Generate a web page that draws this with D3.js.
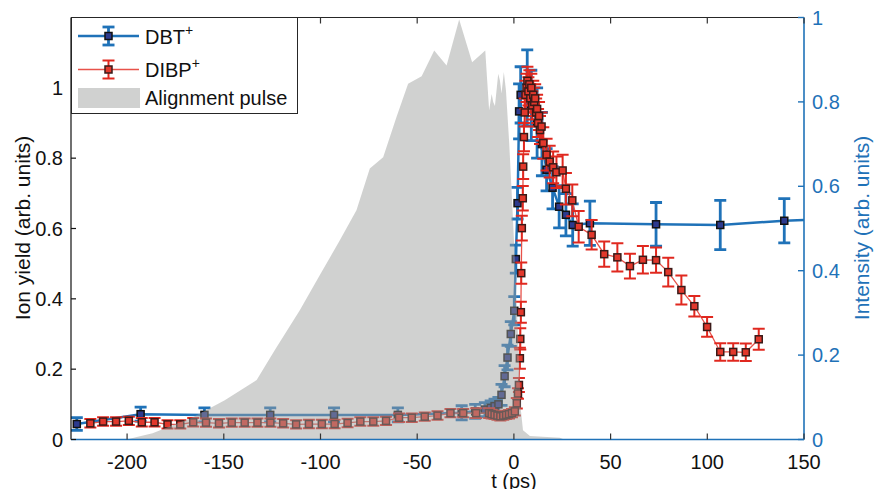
<!DOCTYPE html>
<html><head><meta charset="utf-8">
<script src="https://cdn.jsdelivr.net/npm/d3@7"></script>
<style>
html,body{margin:0;padding:0;background:#fff;}
svg{display:block;font-family:"Liberation Sans",Arial,Helvetica,sans-serif;}
</style></head>
<body><svg id="c" width="875" height="489"></svg>
<script>
// ---- data ----
const xTicks = [-200,-150,-100,-50,0,50,100,150];
const yLeftTicks = [0,0.2,0.4,0.6,0.8,1];
const yRightTicks = [0,0.2,0.4,0.6,0.8,1];

// DBT+ : time (ps), yield, error
const dbtT = [-226,-193,-160,-126,-93,-60,-27,-20,-15,-12,-10,-8,-6.4,-4.8,-3.3,-1.6,0.2,1.0,1.9,2.7,3.5,6.9,9,12,14.5,16.9,20,23.4,26.9,30.4,39.3,73.5,106.7,139.8,173];
const dbtV = [0.044,0.072,0.070,0.070,0.070,0.070,0.076,0.080,0.085,0.090,0.095,0.100,0.127,0.180,0.233,0.300,0.366,0.513,0.672,0.933,0.980,1.000,0.950,0.900,0.840,0.767,0.716,0.662,0.639,0.610,0.615,0.612,0.610,0.622,0.630];
const dbtE = [0.018,0.02,0.02,0.02,0.02,0.02,0.02,0.02,0.02,0.02,0.02,0.02,0.03,0.03,0.035,0.035,0.04,0.04,0.045,0.078,0.08,0.108,0.1,0.1,0.09,0.06,0.06,0.06,0.06,0.06,0.063,0.062,0.07,0.063,0.063];

// DIBP+ : time (ps), yield, error
const dibpT = [-219,-212.4,-205.7,-199.1,-192.4,-185.8,-179.1,-172.5,-165.8,-159.2,-152.5,-145.9,-139.2,-132.6,-125.9,-119.3,-112.6,-106,-99.3,-92.7,-86,-79.4,-72.7,-66.1,-59.4,-52.8,-46.1,-39.5,-32.8,-26.2,-19.5,-12.8,
  -11.5,-10,-8.5,-7,-5.5,-4,-2.5,-1,0.5,1.5,2.1,2.6,3.1,3.3,3.6,3.8,4.1,4.6,4.8,
  5.2,5.6,6.0,6.5,7.0,7.5,8.0,8.5,9.0,9.5,10,10.5,11,11.5,12,12.5,13,13.5,14.3,15.2,16.9,18.5,20.3,22,25.2,26.9,30.2,33.5,40.2,46.7,53.5,60,66.7,73.5,79.8,86.6,93.3,99.9,106.7,113.4,119.9,126.6];
const dibpV = [0.046,0.051,0.051,0.053,0.049,0.049,0.043,0.043,0.049,0.048,0.046,0.048,0.048,0.048,0.048,0.046,0.043,0.044,0.044,0.044,0.047,0.051,0.051,0.053,0.062,0.062,0.065,0.068,0.075,0.075,0.075,0.075,
  0.072,0.070,0.068,0.066,0.068,0.070,0.072,0.075,0.080,0.103,0.131,0.155,0.231,0.286,0.362,0.473,0.601,0.686,0.776,
  0.860,0.930,0.980,1.000,1.020,0.990,1.010,0.970,1.000,0.950,0.980,0.960,0.970,0.930,0.940,0.900,0.920,0.880,0.890,0.843,0.810,0.790,0.774,0.760,0.765,0.713,0.680,0.605,0.582,0.527,0.518,0.493,0.511,0.510,0.476,0.425,0.379,0.320,0.249,0.249,0.248,0.285];
const dibpE = [0.012,0.012,0.012,0.012,0.012,0.012,0.012,0.012,0.012,0.012,0.012,0.012,0.012,0.012,0.012,0.012,0.012,0.012,0.012,0.012,0.012,0.012,0.012,0.012,0.012,0.012,0.012,0.012,0.012,0.012,0.014,0.014,
  0.012,0.012,0.012,0.012,0.012,0.012,0.012,0.012,0.012,0.015,0.015,0.02,0.03,0.03,0.03,0.03,0.035,0.035,0.035,
  0.04,0.04,0.04,0.04,0.04,0.04,0.04,0.04,0.04,0.04,0.04,0.04,0.04,0.04,0.04,0.04,0.04,0.04,0.04,0.045,0.045,0.045,0.045,0.045,0.045,0.045,0.045,0.045,0.042,0.036,0.04,0.035,0.039,0.036,0.041,0.041,0.029,0.028,0.025,0.025,0.025,0.03];

// Alignment pulse (right axis): time (ps), intensity
const pulseT = [-200,-195,-186.8,-166,-149.5,-133,-123.6,-110.7,-100.4,-90,-81.4,-74.5,-67.6,-60.7,-54.7,-47.7,-41.2,-34.8,-28.3,-21.6,-14.8,-13.8,-12.8,-11.5,-10.7,-9.8,-8.1,-7.2,-6.4,-5.2,-4.1,-2.4,-0.7,1.0,2.6,3.6,4.7,8.3,23.8,26];
const pulseI = [0,0.006,0.015,0.053,0.093,0.141,0.212,0.306,0.389,0.472,0.543,0.642,0.669,0.764,0.843,0.861,0.922,0.886,0.995,0.894,0.922,0.85,0.78,0.819,0.80,0.79,0.867,0.85,0.82,0.871,0.827,0.701,0.543,0.377,0.188,0.07,0.022,0.008,0.004,0];

// ---- layout ----
const svg = d3.select("#c");
const L=71, R=804, T=17.5, B=439.5;
const x = d3.scaleLinear().domain([-229,150]).range([L,R]);
const yL = d3.scaleLinear().domain([0,1.2]).range([B,T]);
const yR = d3.scaleLinear().domain([0,1]).range([B,T]);
const BLUE="#1f72b8", RED="#e0281f";

svg.append("defs").append("clipPath").attr("id","clip")
  .append("rect").attr("x",L).attr("y",T).attr("width",R-L).attr("height",B-T);

const plot = svg.append("g").attr("clip-path","url(#clip)");

function series(T_,V,E,color,lw,elw,fill,stroke,lineColor){
  const data = T_.map((t,i)=>({t,v:V[i],e:E[i]}));
  const g = plot.append("g");
  g.append("path").datum(data)
    .attr("d",d3.line().x(d=>x(d.t)).y(d=>yL(d.v)))
    .attr("fill","none").attr("stroke",lineColor).attr("stroke-width",lw);
  const eb = g.append("g").attr("stroke",color).attr("stroke-width",elw);
  data.forEach(d=>{
    const cx=x(d.t), y1=yL(d.v+d.e), y2=yL(d.v-d.e);
    eb.append("line").attr("x1",cx).attr("x2",cx).attr("y1",y1).attr("y2",y2);
    eb.append("line").attr("x1",cx-6).attr("x2",cx+6).attr("y1",y1).attr("y2",y1);
    eb.append("line").attr("x1",cx-6).attr("x2",cx+6).attr("y1",y2).attr("y2",y2);
  });
  g.append("g").selectAll("rect").data(data).join("rect")
    .attr("x",d=>x(d.t)-3.5).attr("y",d=>yL(d.v)-3.5)
    .attr("width",7).attr("height",7)
    .attr("fill",fill).attr("stroke",stroke).attr("stroke-width",1.5);
}
series(dbtT,dbtV,dbtE,BLUE,2.5,2.8,"#2c3a8e","#111",BLUE);
series(dibpT,dibpV,dibpE,RED,1.3,2,"#e2382c","#3a1a18","#e8524a");

// gray pulse on top with transparency
const pulse = pulseT.map((t,i)=>({t,v:pulseI[i]}));
plot.append("path").datum(pulse)
  .attr("d",d3.area().x(d=>x(d.t)).y0(yR(0)).y1(d=>yR(d.v)))
  .attr("fill","#9d9e9d").attr("fill-opacity",0.48).attr("stroke","none");

// ---- axes ----
const ax = svg.append("g");
ax.append("line").attr("x1",L).attr("x2",R).attr("y1",T).attr("y2",T).attr("stroke","#262626").attr("stroke-width",1.2);
ax.append("line").attr("x1",L).attr("x2",L).attr("y1",T).attr("y2",B).attr("stroke","#111").attr("stroke-width",1.2);
ax.append("line").attr("x1",L).attr("x2",R).attr("y1",B).attr("y2",B).attr("stroke",BLUE).attr("stroke-width",1.4);
ax.append("line").attr("x1",R).attr("x2",R).attr("y1",T).attr("y2",B).attr("stroke",BLUE).attr("stroke-width",1.6);
xTicks.forEach(t=>{
  const px=x(t);
  ax.append("line").attr("x1",px).attr("x2",px).attr("y1",B).attr("y2",B-6).attr("stroke","#333").attr("stroke-width",1.2);
  ax.append("line").attr("x1",px).attr("x2",px).attr("y1",T).attr("y2",T+6).attr("stroke","#333").attr("stroke-width",1.2);
  ax.append("text").attr("x",px).attr("y",469).attr("text-anchor","middle")
    .attr("font-size",20).attr("fill","#111").text(String(t));
});
yLeftTicks.forEach(v=>{
  const py=yL(v);
  ax.append("line").attr("x1",L).attr("x2",L+5).attr("y1",py).attr("y2",py).attr("stroke","#111").attr("stroke-width",1.2);
  ax.append("text").attr("x",63).attr("y",py+7).attr("text-anchor","end")
    .attr("font-size",20).attr("fill","#111").text(String(v));
});
yRightTicks.forEach(v=>{
  const py=yR(v);
  ax.append("line").attr("x1",R).attr("x2",R-6).attr("y1",py).attr("y2",py).attr("stroke",BLUE).attr("stroke-width",1.4);
  ax.append("text").attr("x",812).attr("y",py+7).attr("text-anchor","start")
    .attr("font-size",20).attr("fill",BLUE).text(String(v));
});
// axis labels
svg.append("text").attr("transform","translate(30,228) rotate(-90)").attr("text-anchor","middle")
  .attr("font-size",21).attr("fill","#111").text("Ion yield (arb. units)");
svg.append("text").attr("transform","translate(869,228) rotate(-90)").attr("text-anchor","middle")
  .attr("font-size",21).attr("fill",BLUE).text("Intensity (arb. units)");
svg.append("text").attr("x",514).attr("y",488).attr("text-anchor","middle")
  .attr("font-size",20).attr("fill","#111").text("t (ps)");

// ---- legend ----
const lg = svg.append("g");
lg.append("rect").attr("x",71.5).attr("y",17.5).attr("width",226).attr("height",96)
  .attr("fill","#fff").attr("stroke","#262626").attr("stroke-width",1);
function legEntry(y,color,lw,elw,fill,stroke,lineColor,label){
  lg.append("line").attr("x1",78).attr("x2",139).attr("y1",y).attr("y2",y).attr("stroke",lineColor).attr("stroke-width",lw);
  const cx=108.5;
  lg.append("line").attr("x1",cx).attr("x2",cx).attr("y1",y-9).attr("y2",y+9).attr("stroke",color).attr("stroke-width",elw);
  lg.append("line").attr("x1",cx-6).attr("x2",cx+6).attr("y1",y-9).attr("y2",y-9).attr("stroke",color).attr("stroke-width",elw);
  lg.append("line").attr("x1",cx-6).attr("x2",cx+6).attr("y1",y+9).attr("y2",y+9).attr("stroke",color).attr("stroke-width",elw);
  lg.append("rect").attr("x",cx-3.5).attr("y",y-3.5).attr("width",7).attr("height",7).attr("fill",fill).attr("stroke",stroke).attr("stroke-width",1.5);
  const tx = lg.append("text").attr("x",145).attr("y",y+7.5).attr("font-size",20).attr("fill","#111");
  tx.append("tspan").text(label);
  tx.append("tspan").attr("font-size",14).attr("dy",-9).text("+");
}
legEntry(36,BLUE,2.5,2.8,"#2c3a8e","#111",BLUE,"DBT");
legEntry(69.5,RED,1.5,2,"#e2382c","#3a1a18","#e8524a","DIBP");
lg.append("rect").attr("x",78).attr("y",88).attr("width",62).attr("height",20).attr("fill","#d0d1d0");
lg.append("text").attr("x",145).attr("y",105).attr("font-size",20).attr("fill","#111").text("Alignment pulse");
</script></body></html>
